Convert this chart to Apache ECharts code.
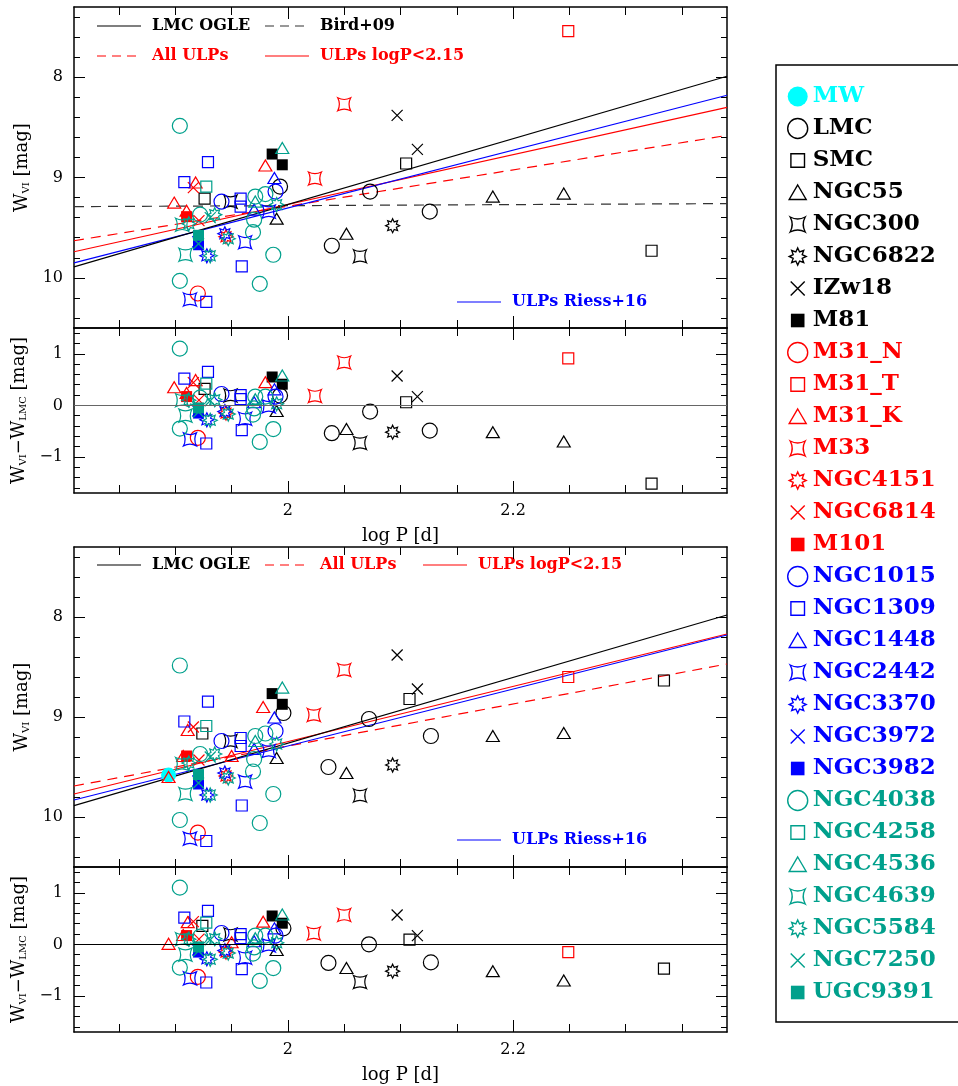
<!DOCTYPE html>
<html>
<head>
<meta charset="utf-8">
<title>W_VI period-luminosity of ULP Cepheids</title>
<script src="https://cdn.jsdelivr.net/npm/echarts@6/dist/echarts.min.js"></script>
<style>
  html, body { margin: 0; padding: 0; background: #fff; }
  #chart { width: 958px; height: 1086px; }
</style>
</head>
<body>
<div id="chart"></div>
<script>
// rows: [log P, W_VI, W_VI - W_LMC]   (_up = upper figure, _lo = lower figure)
const MW_lo = [[1.894, 9.58, null]];
const LMC_up = [[1.993, 9.09, 0.19], [2.039, 9.68, -0.54], [2.073, 9.14, -0.12], [2.126, 9.34, -0.49]];
const LMC_lo = [[1.996, 8.96, 0.31], [2.036, 9.50, -0.36], [2.072, 9.02, 0.00], [2.127, 9.19, -0.35]];
const SMC_up = [[1.926, 9.21, 0.32], [2.105, 8.86, 0.06], [2.323, 9.73, -1.52]];
const SMC_lo = [[1.924, 9.165, 0.36], [2.108, 8.82, 0.09], [2.334, 8.635, -0.47]];
const NGC55_up = [[1.990, 9.41, -0.11], [2.052, 9.56, -0.46], [2.182, 9.19, -0.52], [2.245, 9.16, -0.70]];
const NGC55_lo = NGC55_up;
const NGC300_up = [[1.949, 9.24, 0.19], [2.064, 9.785, -0.73]];
const NGC300_lo = NGC300_up;
const NGC6822_up = [[2.093, 9.48, -0.52]];
const NGC6822_lo = NGC6822_up;
const IZw18_up = [[2.097, 8.38, 0.57], [2.115, 8.72, 0.17]];
const IZw18_lo = IZw18_up;
const M81_up = [[1.986, 8.766, 0.55], [1.995, 8.873, 0.41]];
const M81_lo = M81_up;
const M31N_up = [[1.920, 10.156, -0.63]];
const M31N_lo = M31N_up;
const M31T_up = [[2.249, 7.54, 0.91]];
const M31T_lo = [[2.249, 8.60, -0.15]];
const M31K_up = [[1.899, 9.25, 0.35], [1.918, 9.05, 0.49], [1.910, 9.33, 0.24], [1.980, 8.88, 0.45]];
const M31K_lo = [[1.894, 9.60, 0.01], [1.911, 9.13, 0.43], [1.907, 9.39, 0.18], [1.950, 9.39, 0.04], [1.978, 8.90, 0.44]];
const M33_up = [[2.024, 9.01, 0.18], [2.050, 8.27, 0.83]];
const M33_lo = [[2.023, 8.98, 0.21], [2.050, 8.53, 0.57]];
const NGC4151_up = [[1.945, 9.59, -0.15]];
const NGC4151_lo = NGC4151_up;
const NGC6814_up = [[1.916, 9.10, 0.44], [1.921, 9.43, 0.10]];
const NGC6814_lo = NGC6814_up;
const M101_up = [[1.910, 9.39, 0.17]];
const M101_lo = M101_up;
const NGC1015_up = [[1.941, 9.24, 0.22], [1.989, 9.14, 0.17]];
const NGC1015_lo = NGC1015_up;
const NGC1309_up = [[1.908, 9.045, 0.52], [1.929, 8.846, 0.65], [1.958, 9.21, 0.20], [1.958, 9.29, 0.12], [1.959, 9.885, -0.48], [1.9275, 10.24, -0.74]];
const NGC1309_lo = NGC1309_up;
const NGC1448_up = [[1.988, 9.005, 0.31], [1.970, 9.32, 0.06]];
const NGC1448_lo = NGC1448_up;
const NGC2442_up = [[1.913, 10.216, -0.66], [1.962, 9.646, -0.26], [1.983, 9.34, -0.02]];
const NGC2442_lo = NGC2442_up;
const NGC3370_up = [[1.944, 9.56, -0.12], [1.928, 9.78, -0.28]];
const NGC3370_lo = NGC3370_up;
const NGC3972_up = [[1.920, 9.64, -0.11]];
const NGC3972_lo = NGC3972_up;
const NGC3982_up = [[1.9206, 9.67, -0.15]];
const NGC3982_lo = NGC3982_up;
const NGC4038_up = [[1.904, 8.485, 1.10], [1.904, 10.03, -0.45], [1.922, 9.37, 0.15], [1.971, 9.19, 0.17], [1.980, 9.165, 0.17],
                    [1.970, 9.42, -0.06], [1.969, 9.545, -0.18], [1.987, 9.77, -0.46], [1.975, 10.06, -0.71]];
const NGC4038_lo = NGC4038_up;
const NGC4258_up = [[1.9275, 9.09, 0.42]];
const NGC4258_lo = NGC4258_up;
const NGC4536_up = [[1.995, 8.706, 0.58], [1.971, 9.24, 0.12]];
const NGC4536_lo = NGC4536_up;
const NGC4639_up = [[1.909, 9.77, -0.20], [1.906, 9.47, 0.10]];
const NGC4639_lo = NGC4639_up;
const NGC5584_up = [[1.912, 9.46, 0.10], [1.931, 9.78, -0.29], [1.947, 9.61, -0.17], [1.990, 9.27, 0.03], [1.935, 9.37, 0.11]];
const NGC5584_lo = NGC5584_up;
const NGC7250_up = [[1.9206, 9.66, -0.13], [1.931, 9.40, 0.09]];
const NGC7250_lo = NGC7250_up;
const UGC9391_up = [[1.9206, 9.576, -0.05]];
const UGC9391_lo = UGC9391_up;

// fitted relations, W at the two ends of the log P range
const fitX = [1.81, 2.39];
const lmcOgle_up = [9.89, 7.99];
const bird09_up = [9.29, 9.26];
const allUlps_up = [9.63, 8.58];
const shortUlps_up = [9.74, 8.30];
const riess_up = [9.85, 8.18];
const lmcOgle_lo = [9.886, 7.98];
const allUlps_lo = [9.69, 8.47];
const shortUlps_lo = [9.77, 8.17];
const riess_lo = [9.83, 8.18];

// ticks
const xMajor = [2.0, 2.2];
const xMinor = [1.85, 1.9, 1.95, 2.05, 2.1, 2.15, 2.25, 2.3, 2.35];
const yMajorMain = [8, 9, 10];
const yMinorMain = [7.4, 7.6, 7.8, 8.2, 8.4, 8.6, 8.8, 9.2, 9.4, 9.6, 9.8, 10.2, 10.4];
const yMajorRes = [-1, 0, 1];
const yMinorRes = [-1.6, -1.4, -1.2, -0.8, -0.6, -0.4, -0.2, 0.2, 0.4, 0.6, 0.8, 1.2, 1.4];

const SERIF = '"DejaVu Serif", serif';
const BLACK = '#000000', RED = '#ff0000', BLUE = '#0000ff', TEAL = '#00a08c', CYAN = '#00ffff';

function star8(cx, cy, ro, ri) {
  let d = '';
  for (let k = 0; k < 16; k++) {
    const r = k % 2 ? ri : ro;
    const a = Math.PI * k / 8 - Math.PI / 2;
    d += (k ? 'L' : 'M') + (cx + r * Math.cos(a)).toFixed(2) + ' ' + (cy + r * Math.sin(a)).toFixed(2) + ' ';
  }
  return d + 'Z';
}
const BOX = 'M0 0 M20 20 ';   // keeps legend icons inside a 20x20 cell
const SQ_ICON = 'path://' + BOX + 'M3.2 3.2 L16.8 3.2 L16.8 16.8 L3.2 16.8 Z';
const marks = {
  circle: { symbol: 'circle', size: 15, fill: false, icon: 'circle' },
  square: { symbol: 'rect', size: 11, fill: false, icon: SQ_ICON },
  triangle: { symbol: 'triangle', size: [13, 11], fill: false, icon: 'path://' + BOX + 'M10 2.5 L18.5 17 L1.5 17 Z' },
  star4: { symbol: 'path://M0 0 Q5 2.6 10 0 Q7.4 5 10 10 Q5 7.4 0 10 Q2.6 5 0 0 Z', size: 13, fill: false,
           icon: 'path://' + BOX + 'M2.5 2.5 Q10 6.5 17.5 2.5 Q13.5 10 17.5 17.5 Q10 13.5 2.5 17.5 Q6.5 10 2.5 2.5 Z' },
  star8: { symbol: 'path://' + star8(10, 10, 10, 5.8), size: 14, fill: false, icon: 'path://' + BOX + star8(10, 10, 8.5, 4.9) },
  cross: { symbol: 'path://M0 0 L10 10 M10 0 L0 10', size: 11, fill: false, icon: 'path://' + BOX + 'M3 3 L17 17 M17 3 L3 17' },
  fsquare: { symbol: 'rect', size: 11, fill: true, icon: SQ_ICON },
  dot: { symbol: 'circle', size: 15, fill: true, icon: 'circle' }
};

const galaxies = [
  { name: 'MW', color: CYAN, mark: 'dot', up: [], lo: MW_lo },
  { name: 'LMC', color: BLACK, mark: 'circle', up: LMC_up, lo: LMC_lo },
  { name: 'SMC', color: BLACK, mark: 'square', up: SMC_up, lo: SMC_lo },
  { name: 'NGC55', color: BLACK, mark: 'triangle', up: NGC55_up, lo: NGC55_lo },
  { name: 'NGC300', color: BLACK, mark: 'star4', up: NGC300_up, lo: NGC300_lo },
  { name: 'NGC6822', color: BLACK, mark: 'star8', up: NGC6822_up, lo: NGC6822_lo },
  { name: 'IZw18', color: BLACK, mark: 'cross', up: IZw18_up, lo: IZw18_lo },
  { name: 'M81', color: BLACK, mark: 'fsquare', up: M81_up, lo: M81_lo },
  { name: 'M31_N', color: RED, mark: 'circle', up: M31N_up, lo: M31N_lo },
  { name: 'M31_T', color: RED, mark: 'square', up: M31T_up, lo: M31T_lo },
  { name: 'M31_K', color: RED, mark: 'triangle', up: M31K_up, lo: M31K_lo },
  { name: 'M33', color: RED, mark: 'star4', up: M33_up, lo: M33_lo },
  { name: 'NGC4151', color: RED, mark: 'star8', up: NGC4151_up, lo: NGC4151_lo },
  { name: 'NGC6814', color: RED, mark: 'cross', up: NGC6814_up, lo: NGC6814_lo },
  { name: 'M101', color: RED, mark: 'fsquare', up: M101_up, lo: M101_lo },
  { name: 'NGC1015', color: BLUE, mark: 'circle', up: NGC1015_up, lo: NGC1015_lo },
  { name: 'NGC1309', color: BLUE, mark: 'square', up: NGC1309_up, lo: NGC1309_lo },
  { name: 'NGC1448', color: BLUE, mark: 'triangle', up: NGC1448_up, lo: NGC1448_lo },
  { name: 'NGC2442', color: BLUE, mark: 'star4', up: NGC2442_up, lo: NGC2442_lo },
  { name: 'NGC3370', color: BLUE, mark: 'star8', up: NGC3370_up, lo: NGC3370_lo },
  { name: 'NGC3972', color: BLUE, mark: 'cross', up: NGC3972_up, lo: NGC3972_lo },
  { name: 'NGC3982', color: BLUE, mark: 'fsquare', up: NGC3982_up, lo: NGC3982_lo },
  { name: 'NGC4038', color: TEAL, mark: 'circle', up: NGC4038_up, lo: NGC4038_lo },
  { name: 'NGC4258', color: TEAL, mark: 'square', up: NGC4258_up, lo: NGC4258_lo },
  { name: 'NGC4536', color: TEAL, mark: 'triangle', up: NGC4536_up, lo: NGC4536_lo },
  { name: 'NGC4639', color: TEAL, mark: 'star4', up: NGC4639_up, lo: NGC4639_lo },
  { name: 'NGC5584', color: TEAL, mark: 'star8', up: NGC5584_up, lo: NGC5584_lo },
  { name: 'NGC7250', color: TEAL, mark: 'cross', up: NGC7250_up, lo: NGC7250_lo },
  { name: 'UGC9391', color: TEAL, mark: 'fsquare', up: UGC9391_up, lo: UGC9391_lo }
];

// grid 0: upper W, 1: upper residual, 2: lower W, 3: lower residual
const panels = [
  { grid: 0, rows: 'up', col: 1 },
  { grid: 1, rows: 'up', col: 2 },
  { grid: 2, rows: 'lo', col: 1 },
  { grid: 3, rows: 'lo', col: 2 }
];

const AXLINE = { show: true, onZero: false, lineStyle: { color: '#000', width: 1.5 } };
const NOLINE = { show: false, onZero: false };
function tick(values, len) {
  return { show: true, inside: true, length: len, customValues: values, lineStyle: { color: '#000', width: 1 } };
}

function xAxesFor(grid, labelled) {
  const base = { type: 'value', gridIndex: grid, min: 1.81, max: 2.39, splitLine: { show: false }, axisLabel: { show: false } };
  const major = Object.assign({}, base, { position: 'bottom', axisLine: AXLINE, axisTick: tick(xMajor, 12) });
  if (labelled) {
    major.axisLabel = { show: true, customValues: xMajor, margin: 10, color: '#000', fontFamily: SERIF, fontSize: 16 };
    major.name = 'log P [d]';
    major.nameLocation = 'middle';
    major.nameGap = 34;
    major.nameTextStyle = { color: '#000', fontFamily: SERIF, fontSize: 18 };
  }
  return [
    major,
    Object.assign({}, base, { position: 'bottom', axisLine: NOLINE, axisTick: tick(xMinor, 8) }),
    Object.assign({}, base, { position: 'top', axisLine: AXLINE, axisTick: tick(xMajor, 12) }),
    Object.assign({}, base, { position: 'top', axisLine: NOLINE, axisTick: tick(xMinor, 8) })
  ];
}

function yAxesFor(grid, residual) {
  const base = residual
    ? { type: 'value', gridIndex: grid, min: -1.7, max: 1.5 }
    : { type: 'value', gridIndex: grid, min: 7.3, max: 10.5, inverse: true };
  base.splitLine = { show: false };
  base.axisLabel = { show: false };
  const majors = residual ? yMajorRes : yMajorMain;
  const minors = residual ? yMinorRes : yMinorMain;
  const left = Object.assign({}, base, {
    position: 'left', axisLine: AXLINE, axisTick: tick(majors, 11),
    axisLabel: {
      show: true, customValues: majors, margin: 11, color: '#000', fontFamily: SERIF, fontSize: 16,
      formatter: v => (v < 0 ? '\u2212' + Math.abs(v) : String(v))
    },
    name: residual ? '{w|W}{s|VI}{w|\u2212W}{s|LMC}{w| [mag]}' : '{w|W}{s|VI}{w| [mag]}',
    nameLocation: 'middle',
    nameGap: 32,
    nameTextStyle: {
      color: '#000',
      rich: {
        w: { fontFamily: SERIF, fontSize: 18, color: '#000' },
        s: { fontFamily: SERIF, fontSize: 10, color: '#000', verticalAlign: 'bottom' }
      }
    }
  });
  return [
    left,
    Object.assign({}, base, { position: 'left', axisLine: NOLINE, axisTick: tick(minors, 6) }),
    Object.assign({}, base, { position: 'right', axisLine: AXLINE, axisTick: tick(majors, 11) }),
    Object.assign({}, base, { position: 'right', axisLine: NOLINE, axisTick: tick(minors, 6) })
  ];
}

const series = [];

function fitLine(name, ys, grid, color, dashed) {
  series.push({
    type: 'line', name: name, xAxisIndex: 4 * grid, yAxisIndex: 4 * grid,
    data: fitX.map((x, i) => [x, ys[i]]), symbol: 'none', silent: true, z: 2,
    lineStyle: { color: color, width: 1.2, type: dashed ? [10, 7] : 'solid' }
  });
}
fitLine('Bird+09', bird09_up, 0, '#333', true);
fitLine('All ULPs', allUlps_up, 0, RED, true);
fitLine('ULPs logP<2.15', shortUlps_up, 0, RED, false);
fitLine('ULPs Riess+16', riess_up, 0, BLUE, false);
fitLine('LMC OGLE', lmcOgle_up, 0, BLACK, false);
fitLine('All ULPs ', allUlps_lo, 2, RED, true);
fitLine('ULPs logP<2.15 ', shortUlps_lo, 2, RED, false);
fitLine('ULPs Riess+16 ', riess_lo, 2, BLUE, false);
fitLine('LMC OGLE ', lmcOgle_lo, 2, BLACK, false);

[1, 3].forEach((grid, k) => series.push({
  type: 'line', name: 'zero' + grid, xAxisIndex: 4 * grid, yAxisIndex: 4 * grid, data: [], silent: true,
  markLine: {
    silent: true, symbol: 'none', label: { show: false },
    lineStyle: { color: k ? '#000' : '#666', width: 1.2, type: 'solid' },
    data: [{ yAxis: 0 }]
  }
}));

panels.forEach(p => {
  galaxies.forEach(g => {
    const data = g[p.rows].filter(r => r[p.col] != null).map(r => [r[0], r[p.col]]);
    if (!data.length) return;
    const m = marks[g.mark];
    series.push({
      type: 'scatter', name: g.name, xAxisIndex: 4 * p.grid, yAxisIndex: 4 * p.grid,
      symbol: m.symbol, symbolSize: m.size, data: data, z: 3,
      itemStyle: m.fill ? { color: g.color, opacity: 1 }
                        : { color: 'transparent', borderColor: g.color, borderWidth: 1.2, opacity: 1 }
    });
  });
});

const LEG = 'bold 16px "DejaVu Serif"';
function sample(x, y, color, dashed) {
  return { type: 'line', silent: true, shape: { x1: x, y1: y, x2: x + 44, y2: y },
           style: { stroke: color, lineWidth: 1.2, lineDash: dashed ? [9, 6] : null } };
}
function label(x, y, text, color) {
  return { type: 'text', silent: true, x: x, y: y, style: { text: text, font: LEG, fill: color, verticalAlign: 'middle' } };
}

const graphics = [
  sample(97, 26, BLACK, false), label(152, 26, 'LMC OGLE', BLACK),
  sample(265, 26, '#333', true), label(320, 26, 'Bird+09', BLACK),
  sample(97, 56, RED, true), label(152, 56, 'All ULPs', RED),
  sample(265, 56, RED, false), label(320, 56, 'ULPs logP<2.15', RED),
  sample(457, 302, BLUE, false), label(512, 302, 'ULPs Riess+16', BLUE),
  sample(97, 565, BLACK, false), label(152, 565, 'LMC OGLE', BLACK),
  sample(265, 565, RED, true), label(320, 565, 'All ULPs', RED),
  sample(423, 565, RED, false), label(478, 565, 'ULPs logP<2.15', RED),
  sample(457, 840, BLUE, false), label(512, 840, 'ULPs Riess+16', BLUE)
];

const chart = echarts.init(document.getElementById('chart'), null, { renderer: 'canvas' });
chart.setOption({
  animation: false,
  backgroundColor: '#ffffff',
  grid: [
    { left: 74, top: 7, width: 653, height: 321, outerBoundsMode: 'none' },
    { left: 74, top: 328, width: 653, height: 165, outerBoundsMode: 'none' },
    { left: 74, top: 547, width: 653, height: 320, outerBoundsMode: 'none' },
    { left: 74, top: 867, width: 653, height: 165, outerBoundsMode: 'none' }
  ],
  xAxis: [].concat(xAxesFor(0, false), xAxesFor(1, true), xAxesFor(2, false), xAxesFor(3, true)),
  yAxis: [].concat(yAxesFor(0, false), yAxesFor(1, true), yAxesFor(2, false), yAxesFor(3, true)),
  legend: {
    orient: 'vertical', left: 776, top: 65, padding: [20, 60, 18, 11],
    itemWidth: 20, itemHeight: 20, itemGap: 9, selectedMode: false,
    borderColor: '#000', borderWidth: 1.5,
    textStyle: { fontFamily: SERIF, fontWeight: 'bold', fontSize: 23 },
    data: galaxies.map(g => {
      const m = marks[g.mark];
      return {
        name: g.name, icon: m.icon,
        textStyle: { color: g.color },
        itemStyle: m.fill ? { color: g.color, borderColor: g.color, borderWidth: 0, opacity: 1 }
                          : { color: 'transparent', borderColor: g.color, borderWidth: 1.4, opacity: 1 }
      };
    })
  },
  graphic: graphics,
  series: series
});
</script>
</body>
</html>
